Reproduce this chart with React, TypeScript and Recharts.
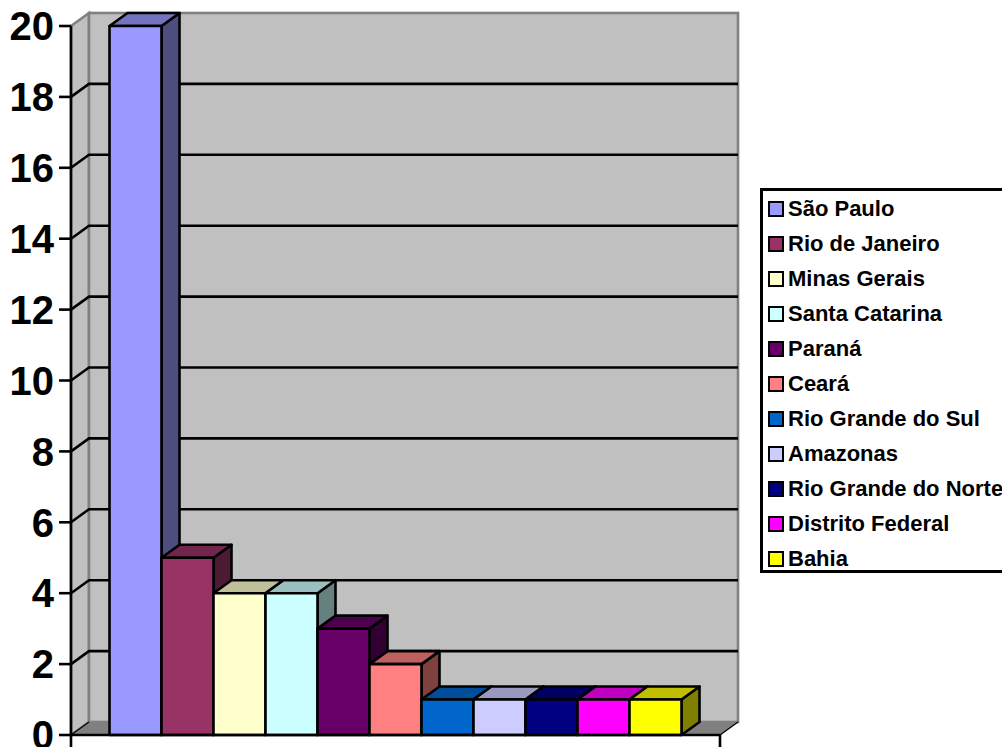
import React from "react";
import { BarChart, Bar, XAxis, YAxis, ReferenceArea, ReferenceLine, Legend } from "recharts";

const states = ["São Paulo","Rio de Janeiro","Minas Gerais","Santa Catarina","Paraná","Ceará","Rio Grande do Sul","Amazonas","Rio Grande do Norte","Distrito Federal","Bahia"];
const counts = [20,5,4,4,3,2,1,1,1,1,1];
const colors = ["#9999FF","#993366","#FFFFCC","#CCFFFF","#660066","#FF8080","#0066CC","#CCCCFF","#000080","#FF00FF","#FFFF00"];
const yTicks = [0,2,4,6,8,10,12,14,16,18,20];
const innerGrid = [2,4,6,8,10,12,14,16,18];

const row: Record<string, any> = { group: "" };
states.forEach((s, i) => { row[s] = counts[i]; });
const data = [row];

const DX = 18;
const DY = -13;
const SW = 2.6;
const FONT = "'Liberation Sans', Arial, sans-serif";

function shade(hex: string, f: number) {
  const n = parseInt(hex.slice(1), 16);
  const c = [(n >> 16) & 255, (n >> 8) & 255, n & 255].map((v) => Math.round(v * f));
  return `rgb(${c[0]},${c[1]},${c[2]})`;
}

const Bar3D = (p: any) => {
  const { x, y, width: w, height: h, fill } = p;
  return (
    <g stroke="#000" strokeWidth={SW} strokeLinejoin="round">
      <polygon points={`${x+w},${y} ${x+w+DX},${y+DY} ${x+w+DX},${y+h+DY} ${x+w},${y+h}`} fill={shade(fill, 0.5)} />
      <polygon points={`${x},${y} ${x+DX},${y+DY} ${x+w+DX},${y+DY} ${x+w},${y}`} fill={shade(fill, 0.75)} />
      <rect x={x} y={y} width={w} height={h} fill={fill} />
    </g>
  );
};

const Walls = (p: any) => {
  const { x, y, width: w, height: h } = p;
  const b = y + h;
  return (
    <g>
      <polygon points={`${x},${y} ${x+DX},${y+DY} ${x+DX},${b+DY} ${x},${b}`} fill="#C0C0C0" stroke="#808080" strokeWidth={SW} />
      <rect x={x+DX} y={y+DY} width={w} height={h} fill="#C0C0C0" stroke="#808080" strokeWidth={SW} />
      <polygon points={`${x},${b} ${x+DX},${b+DY} ${x+w+DX},${b+DY} ${x+w},${b}`} fill="#808080" stroke="#808080" strokeWidth={1} />
      <line x1={x} y1={b} x2={x+DX} y2={b+DY} stroke="#000" strokeWidth={1.2} />
      <line x1={x+w} y1={b} x2={x+w+DX} y2={b+DY} stroke="#000" strokeWidth={1.2} />
      <line x1={x} y1={b} x2={x} y2={b+12} stroke="#000" strokeWidth={SW} />
      <line x1={x+w} y1={b} x2={x+w} y2={b+12} stroke="#000" strokeWidth={SW} />
    </g>
  );
};

const GridBend = (p: any) => {
  const { x1, y1, x2 } = p;
  return <polyline points={`${x1},${y1} ${x1+DX},${y1+DY} ${x2+DX},${y1+DY}`} fill="none" stroke="#000" strokeWidth={SW} />;
};

const LegendBox = (p: any) => (
  <div style={{ boxSizing: "border-box", width: 260, height: 385, border: "3px solid #000", background: "#fff", position: "relative", fontFamily: FONT, fontWeight: 700, fontSize: 22, color: "#000" }}>
    {(p.payload || []).map((e: any, i: number) => (
      <div key={e.value} style={{ position: "absolute", left: 5, top: 5.5 + i * 35, height: 24, display: "flex", alignItems: "center", whiteSpace: "nowrap" }}>
        <span style={{ display: "inline-block", boxSizing: "border-box", width: 16, height: 16, border: "2.6px solid #000", background: e.color, marginRight: 4 }} />
        <span>{e.value}</span>
      </div>
    ))}
  </div>
);

export default function App() {
  return (
    <div style={{ position: "absolute", left: 0, top: 0, width: 1002, height: 747, overflow: "hidden", background: "#fff" }}>
      <BarChart width={1002} height={747} data={data} margin={{ top: 26, left: 0, right: 282, bottom: 0 }} barCategoryGap={38.5} barGap={0}>
        <XAxis dataKey="group" height={12} tick={false} tickLine={false} axisLine={{ stroke: "#000", strokeWidth: SW }} />
        <YAxis width={71} domain={[0, 20]} ticks={yTicks} interval={0} tickSize={12} tickMargin={5}
          tick={{ fill: "#000", fontFamily: FONT, fontWeight: 700, fontSize: 40 }}
          tickLine={{ stroke: "#000", strokeWidth: SW }} axisLine={{ stroke: "#000", strokeWidth: SW }} />
        <ReferenceArea y1={0} y2={20} shape={Walls} zIndex={-2} />
        {innerGrid.map((t) => (
          <ReferenceLine key={t} y={t} shape={GridBend} zIndex={-1} />
        ))}
        {states.map((s, i) => (
          <Bar key={s} dataKey={s} name={s} fill={colors[i]} shape={Bar3D} isAnimationActive={false} />
        ))}
        <Legend layout="horizontal" verticalAlign="middle" align="center" itemSorter={null} content={LegendBox}
          wrapperStyle={{ position: "absolute", left: 760, top: 188, width: 260, height: 385, margin: 0 }} />
      </BarChart>
    </div>
  );
}
